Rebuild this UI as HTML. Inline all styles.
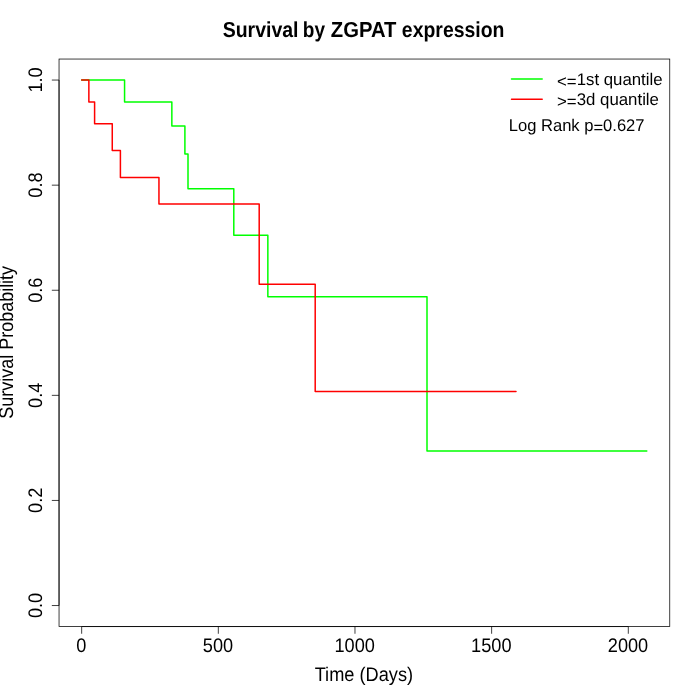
<!DOCTYPE html>
<html><head><meta charset="utf-8"><style>
html,body{margin:0;padding:0;background:#fff;width:700px;height:700px;overflow:hidden}
svg{display:block;will-change:transform;text-rendering:geometricPrecision;font-family:"Liberation Sans",sans-serif}
</style></head><body>
<svg width="700" height="700" viewBox="0 0 700 700">
<rect x="0" y="0" width="700" height="700" fill="#ffffff"/>
<path d="M81.66,80.06 H124.57 V101.95 H171.85 V126.00 H184.90 V154.10 H188.00 V188.80 H233.80 V235.16 H267.85 V296.80 H427.00 V451.10 H646.80" fill="none" stroke="#00ff00" stroke-width="1.5" stroke-linecap="round" stroke-linejoin="round"/>
<path d="M81.66,80.06 H88.86 V101.90 H94.60 V123.80 H112.26 V150.50 H120.40 V177.40 H158.95 V204.10 H259.20 V284.30 H315.20 V391.40 H516.00" fill="none" stroke="#ff0000" stroke-width="1.5" stroke-linecap="round" stroke-linejoin="round"/>
<rect x="59.04" y="59.04" width="610.72" height="567.52" fill="none" stroke="#000" stroke-width="0.75"/>
<path d="M81.66,626.56 H628.30" stroke="#000" stroke-width="0.75" fill="none"/>
<path d="M81.66,626.56 V633.76" stroke="#000" stroke-width="0.75"/>
<path d="M218.32,626.56 V633.76" stroke="#000" stroke-width="0.75"/>
<path d="M354.98,626.56 V633.76" stroke="#000" stroke-width="0.75"/>
<path d="M491.64,626.56 V633.76" stroke="#000" stroke-width="0.75"/>
<path d="M628.30,626.56 V633.76" stroke="#000" stroke-width="0.75"/>
<path d="M59.04,605.54 V80.06" stroke="#000" stroke-width="0.75" fill="none"/>
<path d="M59.04,605.54 H51.84" stroke="#000" stroke-width="0.75"/>
<path d="M59.04,500.44 H51.84" stroke="#000" stroke-width="0.75"/>
<path d="M59.04,395.35 H51.84" stroke="#000" stroke-width="0.75"/>
<path d="M59.04,290.25 H51.84" stroke="#000" stroke-width="0.75"/>
<path d="M59.04,185.16 H51.84" stroke="#000" stroke-width="0.75"/>
<path d="M59.04,80.06 H51.84" stroke="#000" stroke-width="0.75"/>
<g fill="#000">
<text transform="translate(81.36,651.60) scale(1.0100,1.0900)" font-size="18" text-anchor="middle">0</text>
<text transform="translate(218.02,651.60) scale(1.0100,1.0900)" font-size="18" text-anchor="middle">500</text>
<text transform="translate(354.68,651.60) scale(1.0100,1.0900)" font-size="18" text-anchor="middle">1000</text>
<text transform="translate(491.34,651.60) scale(1.0100,1.0900)" font-size="18" text-anchor="middle">1500</text>
<text transform="translate(628.00,651.60) scale(1.0100,1.0900)" font-size="18" text-anchor="middle">2000</text>
<text transform="translate(41.90,605.44) rotate(-90) scale(1.0100,1.0900)" font-size="18" text-anchor="middle">0.0</text>
<text transform="translate(41.90,500.34) rotate(-90) scale(1.0100,1.0900)" font-size="18" text-anchor="middle">0.2</text>
<text transform="translate(41.90,395.25) rotate(-90) scale(1.0100,1.0900)" font-size="18" text-anchor="middle">0.4</text>
<text transform="translate(41.90,290.15) rotate(-90) scale(1.0100,1.0900)" font-size="18" text-anchor="middle">0.6</text>
<text transform="translate(41.90,185.06) rotate(-90) scale(1.0100,1.0900)" font-size="18" text-anchor="middle">0.8</text>
<text transform="translate(41.90,79.96) rotate(-90) scale(1.0100,1.0900)" font-size="18" text-anchor="middle">1.0</text>
<text transform="translate(363.90,681.00) scale(1.0115,1.1000)" font-size="18" text-anchor="middle">Time (Days)</text>
<text transform="translate(13.00,342.35) rotate(-90) scale(0.9990,1.1000)" font-size="18" text-anchor="middle">Survival Probability</text>
<text transform="translate(222.66,37.00) scale(1.0000,1.1100)" font-size="19.5" font-weight="bold">Survival</text>
<text transform="translate(302.83,37.00) scale(0.9770,1.1100)" font-size="19.5" font-weight="bold">by</text>
<text transform="translate(330.81,37.00) scale(1.0380,1.1100)" font-size="19.5" font-weight="bold">ZGPAT</text>
<text transform="translate(401.87,37.00) scale(0.9960,1.1100)" font-size="19.5" font-weight="bold">expression</text>
<text transform="translate(557.00,85.00) scale(1.0070,1.0130)" font-size="16.7"><tspan dy="1.6">&lt;=</tspan><tspan dy="-1.6">1st quantile</tspan></text>
<text transform="translate(557.00,105.00) scale(1.0080,1.0130)" font-size="16.7"><tspan dy="1.6">&gt;=</tspan><tspan dy="-1.6">3d quantile</tspan></text>
<text transform="translate(508.75,131.00) scale(0.9920,1.0160)" font-size="16.7">Log Rank p<tspan dy="1.6">=</tspan><tspan dy="-1.6">0.627</tspan></text>
</g>
<path d="M511.5,79 H542.2" stroke="#00ff00" stroke-width="1.5" stroke-linecap="round"/>
<path d="M511.5,99.3 H542.2" stroke="#ff0000" stroke-width="1.5" stroke-linecap="round"/>
</svg>
</body></html>
